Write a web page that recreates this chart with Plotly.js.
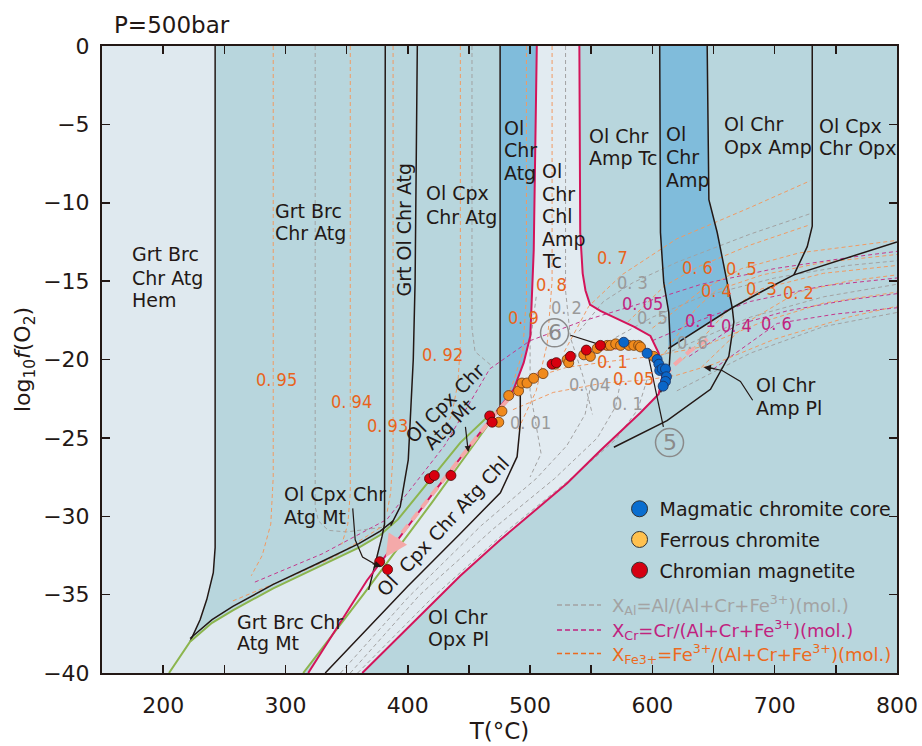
<!DOCTYPE html>
<html><head><meta charset="utf-8">
<script src="https://cdn.plot.ly/plotly-3.0.1.min.js"></script>
<style>html,body{margin:0;padding:0;background:#fff}#c{width:922px;height:746px}</style>
</head><body><div id="c"></div><script>
// ---------- phase field boundaries (T in °C, log fO2) ----------
const hemT=[242.5,242.5,241,235.7,230.2,222]; const hemV=[0,-32,-33.6,-35.3,-36.6,-38];
const greenUpT=[204.8,222,240,257,290,328,360,377.5,385,392,443,470]; const greenUpV=[-40,-38,-36.8,-36,-34.6,-33.2,-32,-31.2,-30.7,-30.2,-25.3,-23.3];
const blackUpT=[222,240,257,290,328,360,377.5,388]; const blackUpV=[-37.8,-36.6,-35.75,-34.35,-32.95,-31.75,-30.95,-30.3];
const greenLoT=[314.5,363.6,420,470]; const greenLoV=[-40,-35.0,-29.1,-23.7];
const grtOlT=[381.6,381.6,381,378.9,368]; const grtOlV=[0,-25,-30.5,-31.3,-34.7];
const olCpxT=[407.8,406,404.5,400.4,393.8,386]; const olCpxV=[0,-15,-20,-26.4,-29.4,-30.6];
const atgT=[475.5,475.5]; const atgV=[0,-23.3];
const magLT=[318.6,366.6,420,471,486.6,494.8,500.2,503,504.3,505.5]; const magLV=[-40,-34.1,-28.6,-23.5,-21.9,-20.2,-18.5,-13,-6.6,0];
const magRT=[540.3,541,543,545.3,549,557.5,584.8,598.4,605.2,608,605.2,590.2,557.5,530.3,475.7,443,362.8];
const magRV=[0,-11.9,-14.5,-15.6,-16.5,-16.9,-17.9,-18.5,-19.6,-21.1,-22.2,-23.4,-25.8,-27.9,-31.5,-33.8,-40];
const chlT=[332.5,399.6,443,475.7,489.4,492,492]; const chlV=[-40,-34.5,-31.1,-28.5,-26.2,-24.1,-21.6];
const ampLT=[606,606.6,609.3,613.4,614.8,613.4,606.6]; const ampLV=[0,-11.9,-15.1,-17,-19.2,-20.9,-22.1];
const ampRT=[644.8,646.2,653,661.1,665.3,666.6,662.5,647.5,612,568.5]; const ampRV=[0,-9.8,-11.9,-15.1,-16.7,-17.6,-19.8,-21.9,-23.9,-25.6];
const opxT=[613,665.3,691,715.7,800]; const opxV=[-19.3,-16.7,-15.6,-14.6,-12.5];
const cpxOpxT=[730.7,730.7,726.6,715.7]; const cpxOpxV=[0,-11.5,-12.8,-14.6];
// ---------- fields (fills) ----------
const hemFT=[150,242.5,242.5,241,235.7,230.2,222,204.8,150]; const hemFV=[0,0,-32,-33.6,-35.3,-36.6,-38,-40,-40];
const mtFT=[204.8,222,240,257,290,328,360,377.5,381,378.9,368,314.5]; const mtFV=[-40,-38,-36.8,-36,-34.6,-33.2,-32,-31.2,-30.9,-31.3,-34.7,-40];
const chlFT=magLT.concat(magRT); const chlFV=magLV.concat(magRV);
const blue1T=[475.5,505.5,504.3,503,500.2,494.8,486.6,475.5]; const blue1V=[0,0,-6.6,-13,-18.5,-20.2,-21.9,-23];
const blue2T=[606,644.8,646.2,653,661.1,665.3,613,613.4,609.3,606.6]; const blue2V=[0,0,-9.8,-11.9,-15.1,-16.7,-19.3,-17,-15.1,-11.9];
// ---------- isopleths ----------
const feLines=[
 [[290,290,288,281,272],[0,-27.5,-30.5,-32.5,-33.8]],
 [[353,353,351,346],[0,-28.5,-30.5,-31.8]],
 [[388,388,386,383],[0,-26,-28.5,-29.8]],
 [[443,443,441,436,428],[0,-19,-21.5,-23.5,-25]],
 [[497,497,494,486,478],[0,-16,-19.5,-21.5,-23]],
 [[518,518,514,505,490],[0,-15,-19,-22,-24.5]],
 [[528,548,575,620,680,729],[-19.5,-16.6,-14.6,-12.3,-10.3,-8.6]],
 [[580,610,637,680,729],[-17.6,-15.3,-14.1,-12.7,-11.4]],
 [[600,640,673,720,800],[-18.0,-15.6,-14.2,-13.2,-12.4]],
 [[610,635,652,690,740,800],[-19.6,-16.8,-15.6,-14.6,-13.8,-13.3]],
 [[625,660,689,740,800],[-20.0,-17.0,-15.5,-14.5,-14.0]],
 [[640,680,719,760,800],[-20.5,-17.5,-15.7,-15.0,-14.6]],
 [[500,530,567,600,640,690,740,800],[-21.2,-20.5,-20.1,-19.8,-19.2,-17.6,-16.4,-15.7]],
 [[486,519,560,596,620,650,700,760,800],[-23.2,-22.1,-21.5,-21.3,-21.0,-20.3,-18.7,-17.3,-16.6]],
 [[257,300,340,380],[-35.4,-34,-32.6,-30.6]]
];
const alLines=[
 [[324.3,324.3,327,335,350,380],[0,-29.4,-30.3,-30.9,-31,-30.7]],
 [[452.5,452.5,455,470],[0,-18,-19.5,-20.5]],
 [[529,529,533,543,551],[0,-15.6,-18.6,-21,-23.5]],
 [[540,560,584,620,680,729],[-18.2,-16.3,-15.1,-13.8,-12.0,-10.7]],
 [[570,600,640,700,760,800],[-18.6,-17.3,-16.0,-14.8,-14.0,-13.7]],
 [[600,632,680,740,800],[-20.0,-18.9,-17.3,-16.0,-15.2]],
 [[620,680,740,800],[-22.0,-19.6,-17.9,-17.0]],
 [[345,400,460,505,530,545,550],[-40,-35.2,-30.6,-27.6,-25.5,-23.5,-21.5]],
 [[353,410,470,520,555,570,575],[-40,-35,-30.8,-27.6,-25,-23,-21]],
 [[359,420,480,535,570,588,596],[-40,-35.2,-31,-27.5,-25.1,-23.2,-21.2]],
 [[505,500,500,506,509,500],[-16,-19,-22,-24.5,-26,-27.5]]
];
const crLines=[
 [[275,330,383,430,467,500,541,591.6,640,700,760,800],[-34.2,-32.4,-30.2,-25.5,-20.6,-18.8,-17.6,-16.4,-15.2,-14.2,-13.5,-13.1]],
 [[600,639,680,740,800],[-18.8,-17.5,-16.3,-15.3,-14.8]],
 [[630,669,710,760,800],[-19.8,-17.8,-16.9,-16.2,-15.8]],
 [[650,702,750,800],[-20.6,-17.7,-17.1,-16.7]]
];
// isopleth labels
const feLabT=[292.4,353.6,383.6,428,494.8,517.4,567.3,636.9,672.9,652.5,689.3,719.1,567.1,584.8];
const feLabV=[-21.3,-22.7,-24.2,-19.7,-17.3,-15.2,-13.5,-14.1,-14.2,-15.6,-15.5,-15.7,-20.1,-21.2];
const feLabTxt=['0. 95','0. 94','0. 93','0. 92','0. 9','0. 8','0. 7','0. 6','0. 5','0. 4','0. 3','0. 2','0. 1','0. 05'];
const alLabT=[529.7,583.7,600,632.7,548.5,579.4,500.2];
const alLabV=[-16.7,-15.1,-17.3,-18.9,-21.6,-22.8,-24.0];
const alLabTxt=['0. 2','0. 3','0. 5','0. 6','0. 04','0. 1','0. 01'];
const crLabT=[591.6,639.4,668.8,701.6];
const crLabV=[-16.4,-17.5,-17.8,-17.7];
const crLabTxt=['0. 05','0. 1','0. 4','0. 6'];
// ---------- spinel analyses ----------
const blueT=[576.6,595.7,603.9,605.3,606,608,610.7,611.5,610.7,608.8];
const blueV=[-18.9,-19.6,-20.0,-20.3,-20.7,-20.6,-20.6,-21.1,-21.4,-21.7];
const orangeT=[474.4,477,482.5,490.6,493.4,497.5,502.9,510.6,520.7,530.3,531.6,543.9,549.3,554.8,563,565.7,570,574,580.7,584.8,588.8,590.3,601];
const orangeV=[-24.0,-23.3,-22.3,-22.0,-21.5,-21.5,-21.2,-20.9,-20.3,-20.0,-20.2,-19.7,-19.8,-19.3,-19.1,-19.1,-19.0,-19.1,-19.1,-19.1,-19.1,-19.2,-19.8];
const redT=[377,383.5,417.8,421.7,435.3,467,469,518,521.5,533,546,557.5];
const redV=[-32.9,-33.4,-27.6,-27.4,-27.4,-23.6,-24.0,-20.3,-20.2,-19.8,-19.4,-19.1];
// evolution path
const pathT=[600,585,560,540,520,500,485,470,450,430,410,393];
const pathV=[-19.5,-19.2,-19.3,-19.8,-20.4,-21.2,-22.3,-23.6,-25.6,-27.6,-29.6,-31.3];
const path2T=[645,630,617,608]; const path2V=[-18.7,-19.5,-20.4,-21.3];
const legendNames=['Magmatic chromite core','Ferrous chromite','Chromian magnetite'];

const K='#231815', MAG='#d4145a', GRN='#8cb54e';
const traces=[];
function fillT(x,y,c){traces.push({x:x,y:y,mode:'lines',fill:'toself',fillcolor:c,line:{width:0},hoverinfo:'skip',showlegend:false});}
function line(x,y,c,w,d){traces.push({x:x,y:y,mode:'lines',line:{color:c,width:w,dash:d||'solid'},hoverinfo:'skip',showlegend:false});}
fillT(hemFT,hemFV,'#dfe9ef');
fillT(mtFT,mtFV,'#dfe9ef');
fillT(chlFT,chlFV,'#e2ebf1');
fillT(blue1T,blue1V,'#80bcdb');
fillT(blue2T,blue2V,'#80bcdb');
alLines.forEach(l=>line(l[0],l[1],'#a2a2a2',1,'4px,3px'));
crLines.forEach(l=>line(l[0],l[1],'#c4388c',1,'4px,3px'));
feLines.forEach(l=>line(l[0],l[1],'#f19a62',1,'4px,3px'));
line(hemT,hemV,K,1.5);
line(blackUpT,blackUpV,K,1.5);
line(greenUpT,greenUpV,GRN,2);
line(greenLoT,greenLoV,GRN,2);
line(grtOlT,grtOlV,K,1.5);
line(olCpxT,olCpxV,K,1.5);
line(atgT,atgV,K,1.5);
line(chlT,chlV,K,1.5);
line(ampLT,ampLV,K,1.5);
line(ampRT,ampRV,K,1.5);
line(opxT,opxV,K,1.5);
line(cpxOpxT,cpxOpxV,K,1.5);
line(magLT,magLV,MAG,2);
line(magRT,magRV,MAG,2);
line(pathT,pathV,'#f4a9a9',4,'10px,6px');
line(path2T,path2V,'#f4a9a9',4,'10px,6px');
// pointers & arrows (curves)
line([355,357,363,374],[-29.5,-31.5,-32.6,-33.1],K,1.2);
line([682,672,657,645],[-22.6,-21.4,-20.7,-20.5],K,1.2);
line([533,559],[-18.45,-19.1],K,1.2);
line([609,596.8],[-24.3,-19.8],K,1.2);
function pts(x,y,c,lc){traces.push({x:x,y:y,mode:'markers',marker:{size:10,color:c,line:{color:lc,width:0.8}},hoverinfo:'skip',showlegend:false});}
pts(orangeT,orangeV,'#f08a1c','#6b3a10');
pts(redT,redV,'#d8000f','#4a0a0a');
pts(blueT,blueV,'#0a66c8','#1a2f5a');
const legCols=['#0a6ecf','#ffc14e','#d50012'];
legendNames.forEach((n,i)=>traces.push({x:[null],y:[null],mode:'markers',name:n,legendgroup:'g'+i,marker:{size:17,color:legCols[i],line:{color:'#333',width:1}}}));

const ann=[]; const F='DejaVu Sans, Arial, sans-serif'; const NF='Liberation Sans Narrow, DejaVu Sans Condensed, Arial Narrow, sans-serif';
function lab(lines,x,ys,opt){lines.forEach((t,i)=>ann.push(Object.assign({x:x,y:ys[i],text:t,showarrow:false,xanchor:'left',yanchor:'middle',font:{family:F,size:19,color:K}},opt||{})));}
lab(['Grt Brc','Chr Atg','Hem'],172.9,[-13.27,-14.78,-16.2]);
lab(['Grt Brc','Chr Atg'],289.7,[-10.5,-11.95]);
lab(['Ol Cpx','Chr Atg'],412.9,[-9.39,-10.89]);
lab(['Ol','Chr','Atg'],477.1,[-5.25,-6.63,-8.12]);
lab(['Ol','Chr','Chl','Amp','Tc'],508.4,[-7.96,-9.44,-10.83,-12.31,-13.7]);
lab(['Ol Chr','Amp Tc'],546.6,[-5.73,-7.16]);
lab(['Ol','Chr','Amp'],609.9,[-5.61,-7.11,-8.55]);
lab(['Ol Chr','Opx Amp'],657.1,[-4.99,-6.42]);
lab(['Ol Cpx','Chr Opx'],734.8,[-5.1,-6.52]);
lab(['Ol Cpx Chr','Atg Mt'],297,[-28.57,-30.02]);
lab(['Grt Brc Chr','Atg Mt'],258.8,[-36.75,-38.1]);
lab(['Ol Chr','Opx Pl'],415.1,[-36.42,-37.85]);
lab(['Ol Chr','Amp Pl'],683,[-21.62,-23.1]);
ann.push({x:397,y:-11.7,text:'Grt Ol Chr Atg',textangle:-90,showarrow:false,font:{family:F,size:19,color:K}});
ann.push({x:430.5,y:-22.8,text:'Ol Cpx Chr',textangle:-45,showarrow:false,font:{family:F,size:19,color:K}});
ann.push({x:434,y:-24.1,text:'Atg Mt',textangle:-45,showarrow:false,font:{family:F,size:19,color:K}});
ann.push({x:428.6,y:-30.6,text:'Ol  Cpx Chr Atg Chl',textangle:-47,showarrow:false,font:{family:F,size:19,color:K}});
feLabTxt.forEach((t,i)=>ann.push({x:feLabT[i],y:feLabV[i],text:t,showarrow:false,font:{family:NF,size:18,color:'#e8641c'}}));
alLabTxt.forEach((t,i)=>ann.push({x:alLabT[i],y:alLabV[i],text:t,showarrow:false,font:{family:NF,size:18,color:'#9a9a9a'}}));
crLabTxt.forEach((t,i)=>ann.push({x:crLabT[i],y:crLabV[i],text:t,showarrow:false,font:{family:NF,size:18,color:'#c0237f'}}));
// circled markers
ann.push({x:520,y:-18.3,text:'6',showarrow:false,font:{family:F,size:22,color:'#8a8a8a'}});
ann.push({x:614,y:-25.3,text:'5',showarrow:false,font:{family:F,size:22,color:'#8a8a8a'}});
// arrowheads
ann.push({x:378.6,y:-33.2,ax:370,ay:-33.0,axref:'x',ayref:'y',showarrow:true,arrowhead:2,arrowsize:1.2,arrowwidth:1.2,arrowcolor:K,text:''});
ann.push({x:642,y:-20.5,ax:652,ay:-20.6,axref:'x',ayref:'y',showarrow:true,arrowhead:2,arrowsize:1.2,arrowwidth:1.2,arrowcolor:K,text:''});
ann.push({x:449.5,y:-25.9,ax:447,ay:-24.2,axref:'x',ayref:'y',showarrow:true,arrowhead:2,arrowsize:1,arrowwidth:1.2,arrowcolor:K,text:''});
ann.push({x:382,y:-32.6,ax:393,ay:-31.3,axref:'x',ayref:'y',showarrow:true,arrowhead:2,arrowsize:1.1,arrowwidth:4,arrowcolor:'#f4a9a9',text:''});
// P label and isopleth key
ann.push({xref:'paper',yref:'paper',x:(112-102)/795,y:(673-25)/627,xanchor:'left',yanchor:'middle',text:'P=500bar',showarrow:false,font:{family:F,size:23,color:K}});
const keyTxt=['X<sub>Al</sub>=Al/(Al+Cr+Fe<sup>3+</sup>)(mol.)','X<sub>Cr</sub>=Cr/(Al+Cr+Fe<sup>3+</sup>)(mol.)','X<sub>Fe3+</sub>=Fe<sup>3+</sup>/(Al+Cr+Fe<sup>3+</sup>)(mol.)'];
const keyCol=['#a3a3a3','#c0237f','#ec6a1e'];
const keyY=[605,630,653.5];
const shapes=[];
keyTxt.forEach((t,i)=>{
  ann.push({xref:'paper',yref:'paper',x:(610-102)/795,y:(673-keyY[i])/627,xanchor:'left',yanchor:'middle',text:t,showarrow:false,font:{family:F,size:18,color:keyCol[i]}});
  shapes.push({type:'line',xref:'paper',yref:'paper',x0:(557-102)/795,x1:(601-102)/795,y0:(673-keyY[i])/627,y1:(673-keyY[i])/627,line:{color:keyCol[i],width:1.3,dash:'5px,3px'}});
});
shapes.push({type:'circle',xref:'x',yref:'y',xsizemode:'pixel',ysizemode:'pixel',xanchor:520,yanchor:-18.3,x0:-14,x1:14,y0:-14,y1:14,line:{color:'#8a8a8a',width:1.5}});
shapes.push({type:'circle',xref:'x',yref:'y',xsizemode:'pixel',ysizemode:'pixel',xanchor:614,yanchor:-25.3,x0:-14,x1:14,y0:-14,y1:14,line:{color:'#8a8a8a',width:1.5}});

const axBase={showgrid:false,zeroline:false,showline:true,linecolor:K,linewidth:2,mirror:'ticks',ticks:'inside',ticklen:8,tickwidth:1.5,tickcolor:K,tickfont:{family:F,size:22,color:K}};
const layout={width:922,height:746,margin:{l:102,r:25,t:46,b:73},paper_bgcolor:'#fff',plot_bgcolor:'#b8d6dd',
 xaxis:Object.assign({},axBase,{range:[150,800],dtick:100,tick0:0,ticklabelstandoff:12,minor:{dtick:50,tick0:0,ticks:'inside',ticklen:8,tickwidth:1.5,tickcolor:K,showgrid:false},title:{text:'T(°C)',font:{family:F,size:23,color:K},standoff:5}}),
 yaxis:Object.assign({},axBase,{range:[-40,0],dtick:5,ticklabelstandoff:6,title:{text:'log<sub>10</sub><i>f</i>(O<sub>2</sub>)',font:{family:F,size:22,color:K},standoff:6}}),
 legend:{x:0.651,y:0.292,xanchor:'left',yanchor:'top',bgcolor:'rgba(0,0,0,0)',font:{family:F,size:19,color:K},tracegroupgap:3,itemwidth:30},
 showlegend:true,annotations:ann,shapes:shapes};
Plotly.newPlot('c',traces,layout,{displayModeBar:false,staticPlot:true});
</script></body></html>
